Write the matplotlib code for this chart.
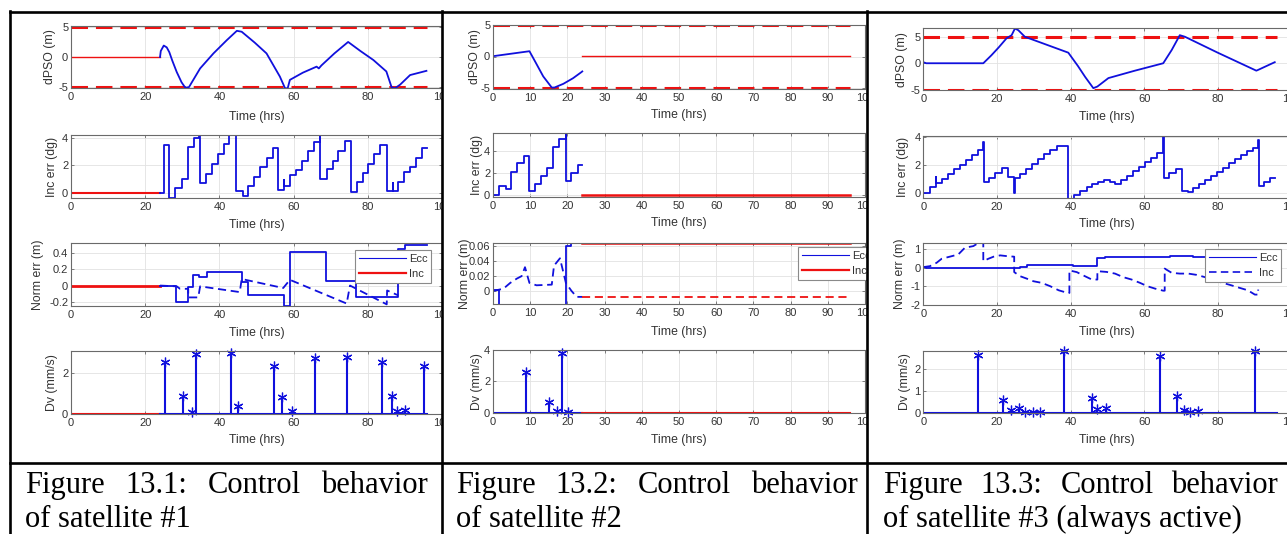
import matplotlib
matplotlib.use('Agg')
import matplotlib.pyplot as plt
from matplotlib.lines import Line2D
from matplotlib.patches import Rectangle
from matplotlib.ticker import FuncFormatter

plt.rcParams['axes.unicode_minus'] = False
plt.rcParams['font.family'] = ['Liberation Sans', 'DejaVu Sans']

# ---------------- data: satellite #1 ----------------
s1_pso_red_t = [0, 24]
s1_pso_red_v = [0, 0]
s1_pso_t = [24.0, 24.2, 25.0, 25.8, 26.5, 27.3, 28.5, 29.8, 30.8, 31.8, 34.8, 38.4, 42.0, 44.7, 46.0, 49.5,
            52.7, 56.3, 57.7, 58.4, 59.0, 62.5, 66.2, 66.8, 67.5, 71.0, 74.7, 78.0, 81.5, 85.0, 86.4, 87.3,
            88.7, 91.4, 95.8]
s1_pso_v = [0.0, 1.0, 1.9, 1.6, 0.8, -0.6, -2.5, -4.2, -5.1, -5.0, -1.9, 0.6, 2.8, 4.35, 4.2, 2.4,
            0.6, -3.25, -5.2, -5.2, -3.8, -2.6, -1.6, -1.9, -1.4, 0.6, 2.5, 1.0, -0.5, -2.4, -5.0, -5.2,
            -4.6, -3.0, -2.3]
s1_inc_red_t = [0, 24]
s1_inc_red_v = [0, 0]
s1_inc_t = [24.0, 25.1, 26.5, 28.0, 29.8, 31.6, 33.1, 34.6, 34.8, 36.4, 37.9, 39.5, 41.3, 42.7, 44.5, 46.3,
            47.8, 49.3, 50.9, 52.7, 54.4, 55.9, 57.4, 57.5, 59.0, 60.6, 62.3, 64.0, 65.6, 67.1, 67.2, 68.9,
            70.5, 72.1, 73.9, 75.4, 77.0, 78.6, 80.1, 81.7, 83.3, 85.1, 86.7, 86.8, 88.2, 89.8, 91.4, 93.0,
            94.5, 96.0]
s1_inc_v = [0.0, 3.5, -0.4, 0.3, 1.0, 3.3, 4.0, 4.3, 0.7, 1.35, 2.1, 2.8, 3.55, 4.2, 0.1, -0.25,
            0.5, 1.1, 1.85, 2.5, 3.25, 0.2, 0.9, 0.5, 1.3, 1.65, 2.3, 3.0, 3.7, 4.3, 1.0, 1.7,
            2.3, 3.0, 3.75, 0.05, 0.75, 1.45, 2.1, 2.8, 3.5, 0.1, 0.7, 0.1, 0.8, 1.5, 1.9, 2.55,
            3.25, 3.25]
s1_norm_red_t = [0, 24]
s1_norm_red_v = [0, 0]
s1_ecc_t = [24.0, 26.9, 28.3, 31.6, 33.0, 34.6, 36.6, 46.0, 47.8, 57.4, 59.0, 68.7, 76.8, 88.2, 90.0, 96.0]
s1_ecc_v = [0.0, -0.01, -0.2, -0.02, 0.13, 0.11, 0.165, 0.04, -0.115, -0.25, 0.41, 0.06, -0.145, 0.445, 0.5, 0.5]
s1_incn_t = [24.0, 28.5, 29.4, 31.6, 31.6, 34.3, 34.8, 45.5, 46.0, 57.2, 59.0, 74.3, 75.2, 85.1, 85.2, 88.2]
s1_incn_v = [0.0, -0.01, -0.04, -0.04, -0.145, -0.145, -0.01, -0.08, 0.08, -0.03, 0.07, -0.22, 0.0, -0.23, -0.06, -0.12]
s1_dv_red_t = [0, 24]
s1_dv_red_v = [0, 0]
s1_dv_base_t = [24, 96]
s1_dv_base_v = [0, 0]
s1_dv_t = [25.3, 30.3, 32.7, 33.7, 43.1, 45.1, 54.7, 57.0, 59.5, 65.8, 74.3, 83.7, 86.4, 88.0, 90.0, 95.2]
s1_dv_v = [2.57, 0.89, 0.11, 2.95, 3.02, 0.41, 2.36, 0.85, 0.15, 2.74, 2.79, 2.57, 0.9, 0.16, 0.2, 2.36]

# ---------------- data: satellite #2 ----------------
s2_pso_t = [0, 9.8, 11.5, 13.5, 15.8, 16.5, 18.9, 21.5, 23.8, 24.0]
s2_pso_v = [0.05, 0.85, -1.0, -3.2, -5.0, -5.0, -4.4, -3.5, -2.5, -2.4]
s2_pso_red_t = [24, 96]
s2_pso_red_v = [0.15, 0.15]
s2_inc_t = [0, 1.6, 3.5, 4.8, 6.5, 8.2, 9.8, 11.4, 12.9, 14.6, 16.2, 17.8, 19.5, 19.6, 21.1, 22.8, 24.0]
s2_inc_v = [0.0, 0.8, 0.5, 2.07, 2.84, 3.54, 0.3, 1.0, 1.7, 2.44, 4.37, 5.05, 5.7, 1.22, 1.98, 2.69, 2.69]
s2_inc_red_t = [24, 96]
s2_inc_red_v = [0, 0]
s2_ecc_t = [0, 1.6, 19.6, 21.1, 24.0]
s2_ecc_v = [0.001, -0.02, 0.061, 0.0645, 0.0645]
s2_ecc_red_t = [24, 96]
s2_ecc_red_v = [0.0645, 0.0645]
s2_incn_t = [0, 2.8, 4.6, 6.4, 7.7, 8.6, 9.8, 11.7, 15.8, 16.4, 18.0, 19.6, 21.1, 22.5, 24.0]
s2_incn_v = [0.0, 0.003, 0.0107, 0.0166, 0.02, 0.032, 0.0107, 0.0076, 0.0085, 0.034, 0.044, 0.0107, 0.0, -0.008, -0.008]
s2_incn_red_t = [24, 96]
s2_incn_red_v = [-0.008, -0.008]
s2_dv_base_t = [0, 24]
s2_dv_base_v = [0, 0]
s2_dv_red_t = [24, 96]
s2_dv_red_v = [0, 0]
s2_dv_t = [8.8, 15.1, 17.2, 18.6, 20.1]
s2_dv_v = [2.62, 0.66, 0.1, 3.79, 0.07]

# ---------------- data: satellite #3 ----------------
s3_pso_t = [0, 0.8, 16.3, 18.5, 20.5, 22.6, 24.0, 24.9, 25.8, 27.6, 33.5, 39.4, 42.0, 44.0, 46.2, 47.3,
            50.3, 57.5, 65.2, 67.5, 69.7, 71.1, 80.0, 90.5, 91.0, 95.5]
s3_pso_v = [0.2, 0.0, 0.0, 1.5, 3.0, 4.7, 5.3, 6.56, 6.25, 5.0, 3.5, 2.0, -0.5, -2.6, -4.7, -4.4,
            -2.8, -1.4, 0.0, 2.5, 5.3, 5.0, 2.0, -1.4, -1.25, 0.2]
s3_inc_t = [0, 1.8, 3.4, 3.5, 5.0, 6.6, 8.4, 10.0, 11.6, 13.1, 14.8, 16.3, 16.4, 17.9, 19.5, 21.3, 22.9,
            24.7, 24.8, 26.3, 27.9, 29.6, 31.3, 32.9, 34.4, 36.2, 37.8, 39.4, 41.0, 42.6, 44.4, 45.9,
            47.6, 49.2, 50.7, 52.1, 53.7, 55.3, 57.1, 58.6, 60.2, 61.9, 63.4, 65.2, 65.3, 66.9, 68.6,
            70.2, 71.8, 73.4, 74.9, 76.5, 78.2, 79.7, 81.5, 83.1, 84.7, 86.3, 87.9, 89.5, 91.0, 91.1,
            92.7, 94.2, 95.6]
s3_inc_v = [0.0, 0.4, 1.13, 0.7, 1.0, 1.37, 1.66, 2.0, 2.34, 2.68, 3.07, 3.6, 0.73, 1.05, 1.41, 1.73, 1.12,
            0.0, 1.05, 1.34, 1.7, 2.07, 2.4, 2.73, 3.07, 3.37, 3.35, -0.45, -0.17, 0.15, 0.44, 0.6,
            0.75, 0.93, 0.75, 0.61, 0.93, 1.22, 1.54, 1.85, 2.2, 2.51, 2.83, 4.1, 1.05, 1.41, 1.66,
            0.15, 0.07, 0.32, 0.61, 0.88, 1.17, 1.49, 1.78, 2.1, 2.39, 2.7, 3.0, 3.2, 3.73, 0.49,
            0.8, 1.05, 1.05]
s3_ecc_t = [0, 0.8, 16.3, 26.2, 28.1, 40.8, 47.3, 49.3, 67.0, 73.3, 96.0]
s3_ecc_v = [0.04, 0.0, -0.03, 0.05, 0.15, 0.09, 0.54, 0.6, 0.63, 0.56, 0.56]
s3_incn_t = [0, 1.8, 3.6, 5.0, 7.2, 9.5, 11.3, 13.6, 15.4, 16.3, 16.3, 17.7, 19.1, 20.9, 22.7, 24.7, 24.7,
             26.3, 28.1, 29.9, 32.2, 34.5, 36.8, 39.2, 39.7, 39.7, 41.7, 43.5, 45.8, 47.3, 47.3, 49.8,
             52.1, 54.3, 56.6, 58.9, 60.9, 63.0, 65.2, 65.6, 65.6, 67.5, 69.7, 72.0, 74.3, 76.5, 81.4,
             83.7, 86.0, 88.2, 90.1, 91.0, 91.0]
s3_incn_v = [0.04, 0.09, 0.27, 0.49, 0.6, 0.72, 1.08, 1.17, 1.39, 1.39, 0.36, 0.49, 0.6, 0.67, 0.63, 0.6, -0.23,
             -0.45, -0.58, -0.72, -0.81, -0.99, -1.21, -1.35, -1.35, -0.14, -0.23, -0.41, -0.63, -0.63, -0.18, -0.22,
             -0.31, -0.5, -0.63, -0.81, -0.99, -1.12, -1.23, -1.23, -0.04, -0.27, -0.31, -0.31, -0.38, -0.5, -0.81,
             -0.94, -1.08, -1.21, -1.44, -1.44, -1.17]
s3_dv_base_t = [0, 96]
s3_dv_base_v = [0, 0]
s3_dv_t = [14.9, 21.6, 23.8, 26.1, 27.6, 29.9, 31.7, 38.2, 45.8, 47.3, 49.6, 64.3, 69.0, 70.8, 72.5, 74.7, 90.1]
s3_dv_v = [2.69, 0.61, 0.12, 0.23, 0.05, 0.05, 0.02, 2.87, 0.7, 0.15, 0.2, 2.64, 0.76, 0.12, 0.02, 0.08, 2.87]

bound_t = [0, 96]
bound_hi = [5, 5]
bound_lo = [-5, -5]

captions = [
    (["Figure", "13.1:", "Control", "behavior"], "of satellite #1"),
    (["Figure", "13.2:", "Control", "behavior"], "of satellite #2"),
    (["Figure", "13.3:", "Control", "behavior"], "of satellite #3 (always active)"),
]
ylabels = ["dPSO (m)", "Inc err (dg)", "Norm err (m)", "Dv (mm/s)"]

# ---------------- layout ----------------
W, H = 1287, 534
fig = plt.figure(figsize=(W / 100, H / 100), dpi=100)

BLUE = '#1010dd'
RED = '#ee1111'
FRAME = '#6a6a6a'
TXT = '#333333'

cols = [
    dict(x0=71, x1=442, xstep=20, z=1,
         rows=[(26, 88), (135, 198), (243, 306), (351, 414)],
         ylims=[(-5.15, 5.15), (-0.4, 4.2), (-0.25, 0.52), (0, 3.1)],
         yticks=[[-5, 0, 5], [0, 2, 4], [-0.2, 0, 0.2, 0.4], [0, 2]],
         ylab_x=[50, 52, 38, 52], xlab_y=[117, 225, 333, 440]),
    dict(x0=493, x1=865, xstep=10, z=3,
         rows=[(24.5, 88.5), (133.3, 196.7), (242.7, 304.3), (350, 412.7)],
         ylims=[(-5.15, 5.15), (-0.2, 5.6), (-0.018, 0.065), (0, 4)],
         yticks=[[-5, 0, 5], [0, 2, 4], [0, 0.02, 0.04, 0.06], [0, 2, 4]],
         ylab_x=[475, 477, 465, 477], xlab_y=[115, 223, 332, 440]),
    dict(x0=923.3, x1=1291.3, xstep=20, z=5,
         rows=[(28.3, 90), (136, 198.3), (243.3, 305), (350.7, 412.7)],
         ylims=[(-5.05, 6.6), (-0.4, 4.05), (-2, 1.32), (0, 2.87)],
         yticks=[[-5, 0, 5], [0, 2, 4], [-2, -1, 0, 1], [0, 1, 2]],
         ylab_x=[902, 903, 900, 905], xlab_y=[117, 224, 332, 440]),
]

fmt = FuncFormatter(lambda v, p: f'{v:g}')
axes = []
for c in cols:
    row_axes = []
    for r, (y0, y1) in enumerate(c['rows']):
        ax = fig.add_axes([c['x0'] / W, 1 - y1 / H, (c['x1'] - c['x0']) / W, (y1 - y0) / H])
        ax.set_zorder(c['z'])
        ax.set_xlim(0, 100)
        ax.set_ylim(*c['ylims'][r])
        ax.set_xticks(range(0, 101, c['xstep']))
        ax.set_yticks(c['yticks'][r])
        ax.xaxis.set_major_formatter(fmt)
        ax.yaxis.set_major_formatter(fmt)
        ax.tick_params(direction='in', length=2.5, width=0.6, color=FRAME, labelcolor=TXT,
                       labelsize=8, top=True, right=True)
        ax.tick_params(axis='x', pad=3)
        ax.tick_params(axis='y', pad=2)
        for sp in ax.spines.values():
            sp.set_color(FRAME)
            sp.set_linewidth(0.8)
        ax.grid(True, color='#e2e2e2', lw=0.6)
        ax.set_axisbelow(True)
        w = c['x1'] - c['x0']
        h = y1 - y0
        ax.set_ylabel(ylabels[r], fontsize=8.8, color=TXT, va='center')
        ax.yaxis.set_label_coords((c['ylab_x'][r] - c['x0']) / w, 0.5)
        ax.text(0.5, -(c['xlab_y'][r] - y1) / h, 'Time (hrs)', transform=ax.transAxes,
                ha='center', va='center', fontsize=8.8, color=TXT, clip_on=False)
        row_axes.append(ax)
    axes.append(row_axes)

dash_red = (0, (5.4, 2.6))
dash_blue = (0, (4.5, 2.6))

def stems(ax, t, v):
    ax.vlines(t, 0, v, color=BLUE, lw=1.5)
    ax.plot(t, v, ls='none', marker=(6, 2, 0), ms=7, mew=0.9, color=BLUE, clip_on=False)

# ----- satellite 1 -----
a = axes[0]
a[0].plot(bound_t, bound_hi, color=RED, lw=2.2, ls=dash_red)
a[0].plot(bound_t, bound_lo, color=RED, lw=2.2, ls=dash_red)
a[0].plot(s1_pso_red_t, s1_pso_red_v, color=RED, lw=1.0)
a[0].plot(s1_pso_t, s1_pso_v, color=BLUE, lw=1.3)
a[1].plot(s1_inc_red_t, s1_inc_red_v, color=RED, lw=1.5)
a[1].plot(s1_inc_t, s1_inc_v, color=BLUE, lw=1.3, drawstyle='steps-post')
a[2].plot(s1_norm_red_t, s1_norm_red_v, color=RED, lw=2.0)
a[2].plot(s1_ecc_t, s1_ecc_v, color=BLUE, lw=1.3, drawstyle='steps-post')
a[2].plot(s1_incn_t, s1_incn_v, color=BLUE, lw=1.3, ls=dash_blue)
a[3].plot(s1_dv_red_t, s1_dv_red_v, color=RED, lw=1.5)
a[3].plot(s1_dv_base_t, s1_dv_base_v, color=BLUE, lw=1.5)
stems(a[3], s1_dv_t, s1_dv_v)

# ----- satellite 2 -----
a = axes[1]
a[0].plot(bound_t, bound_hi, color=RED, lw=2.2, ls=dash_red)
a[0].plot(bound_t, bound_lo, color=RED, lw=2.2, ls=dash_red)
a[0].plot(s2_pso_t, s2_pso_v, color=BLUE, lw=1.3)
a[0].plot(s2_pso_red_t, s2_pso_red_v, color=RED, lw=1.0)
a[1].plot(s2_inc_t, s2_inc_v, color=BLUE, lw=1.3, drawstyle='steps-post')
a[1].plot(s2_inc_red_t, s2_inc_red_v, color=RED, lw=1.8)
a[2].plot(s2_ecc_t, s2_ecc_v, color=BLUE, lw=1.3, drawstyle='steps-post')
a[2].plot(s2_ecc_red_t, s2_ecc_red_v, color=RED, lw=1.8)
a[2].plot(s2_incn_t, s2_incn_v, color=BLUE, lw=1.3, ls=dash_blue)
a[2].plot(s2_incn_red_t, s2_incn_red_v, color=RED, lw=1.3, ls=dash_blue)
a[3].plot(s2_dv_base_t, s2_dv_base_v, color=BLUE, lw=1.5)
a[3].plot(s2_dv_red_t, s2_dv_red_v, color=RED, lw=1.5)
stems(a[3], s2_dv_t, s2_dv_v)

# ----- satellite 3 -----
a = axes[2]
a[0].plot(bound_t, bound_hi, color=RED, lw=2.2, ls=dash_red)
a[0].plot(bound_t, bound_lo, color=RED, lw=2.2, ls=dash_red)
a[0].plot(s3_pso_t, s3_pso_v, color=BLUE, lw=1.3)
a[1].plot(s3_inc_t, s3_inc_v, color=BLUE, lw=1.3, drawstyle='steps-post')
a[2].plot(s3_ecc_t, s3_ecc_v, color=BLUE, lw=1.3, drawstyle='steps-post')
a[2].plot(s3_incn_t, s3_incn_v, color=BLUE, lw=1.3, ls=dash_blue)
a[3].plot(s3_dv_base_t, s3_dv_base_v, color=BLUE, lw=1.5)
stems(a[3], s3_dv_t, s3_dv_v)

# ----- legends -----
leg_specs = [
    (axes[0][2], (355, 250), [Line2D([], [], color=BLUE, lw=0.8), Line2D([], [], color=RED, lw=1.6)]),
    (axes[1][2], (798, 247.3), [Line2D([], [], color=BLUE, lw=0.8), Line2D([], [], color=RED, lw=1.6)]),
    (axes[2][2], (1205, 249), [Line2D([], [], color=BLUE, lw=0.8), Line2D([], [], color=BLUE, lw=1.2, ls=dash_blue)]),
]
for ci, (ax, (lx, ly), handles) in enumerate(leg_specs):
    c = cols[ci]
    y0, y1 = c['rows'][2]
    bx = (lx - c['x0']) / (c['x1'] - c['x0'])
    by = 1 - (ly - y0) / (y1 - y0)
    leg = ax.legend(handles, ['Ecc', 'Inc'], loc='upper left', bbox_to_anchor=(bx, by),
                    borderaxespad=0, fontsize=8, handlelength=4.2, handletextpad=0.3,
                    borderpad=0.35, labelspacing=0.45, fancybox=False, framealpha=1,
                    edgecolor='#8a8a8a')
    leg.get_frame().set_linewidth(0.8)
    for t in leg.get_texts():
        t.set_color(TXT)

# ----- cell backgrounds that clip the overflowing neighbour -----
fig.add_artist(Rectangle((442 / W, 0), (867 - 442) / W, 1, transform=fig.transFigure,
                         facecolor='white', edgecolor='none', zorder=2))
fig.add_artist(Rectangle((867 / W, 0), (W - 867) / W, 1, transform=fig.transFigure,
                         facecolor='white', edgecolor='none', zorder=4))

# ----- table borders -----
def hline(y, x0, x1):
    fig.add_artist(Line2D([x0 / W, x1 / W], [1 - y / H, 1 - y / H], transform=fig.transFigure,
                          color='black', lw=1.9, zorder=20))

def vline(x, y0, y1):
    fig.add_artist(Line2D([x / W, x / W], [1 - y0 / H, 1 - y1 / H], transform=fig.transFigure,
                          color='black', lw=1.9, zorder=20))

hline(12, 9.5, W)
hline(463, 9.5, W)
vline(9.5, 11.3, H)
vline(442, 11.3, H)
vline(867, 11.3, H)

# ----- captions (justified first line) -----
cap_spans = [(25, 428), (456, 858), (883, 1278)]
renderer = fig.canvas.get_renderer()
for (words, line2), (xl, xr) in zip(captions, cap_spans):
    texts = [fig.text(0, 1 - 492.7 / H, wd, fontsize=22, family='Liberation Serif',
                      va='baseline', ha='left', zorder=20) for wd in words]
    widths = [t.get_window_extent(renderer).width for t in texts]
    gap = (xr - xl - sum(widths)) / (len(words) - 1)
    x = xl
    for t, wdt in zip(texts, widths):
        t.set_x(x / W)
        x += wdt + gap
    fig.text(xl / W, 1 - 526.7 / H, line2, fontsize=22, family='Liberation Serif',
             va='baseline', ha='left', zorder=20)

fig.savefig('out.png', dpi=100)
